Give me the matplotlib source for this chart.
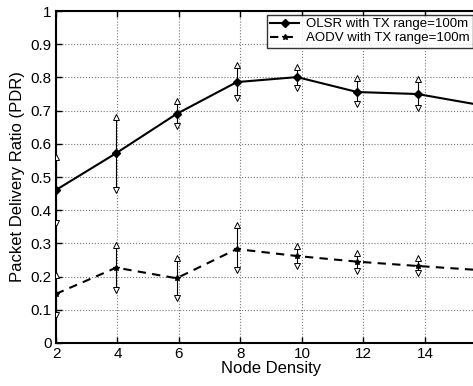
import matplotlib
matplotlib.use('Agg')
import matplotlib.pyplot as plt

plt.rcParams['font.family'] = ['Liberation Sans', 'DejaVu Sans']

# Dados
densidade = [2, 3.96, 5.92, 7.88, 9.84, 11.80, 13.76, 15.72]

olsr = [0.461, 0.572, 0.690, 0.786, 0.801, 0.756, 0.750, 0.718]
olsr_sup = [0.560, 0.680, 0.730, 0.837, 0.830, 0.797, 0.795, 0.760]
olsr_inf = [0.360, 0.460, 0.655, 0.737, 0.767, 0.720, 0.707, 0.680]

aodv = [0.148, 0.227, 0.195, 0.283, 0.262, 0.245, 0.232, 0.220]
aodv_sup = [0.205, 0.295, 0.255, 0.355, 0.292, 0.272, 0.255, 0.245]
aodv_inf = [0.085, 0.160, 0.135, 0.220, 0.232, 0.217, 0.210, 0.195]

fig = plt.figure(figsize=(4.73, 3.86), dpi=100)
ax = fig.add_axes([0.1184, 0.1114, 0.910, 0.860])

# Barras de erro com triângulos abertos nas pontas
for sup, inf in [(olsr_sup, olsr_inf), (aodv_sup, aodv_inf)]:
    ax.vlines(densidade, inf, sup, color='black', linewidth=0.8, zorder=2)
    ax.plot(densidade, sup, linestyle='none', marker='^', markersize=5,
            markerfacecolor='white', markeredgecolor='black', markeredgewidth=0.7, zorder=3)
    ax.plot(densidade, inf, linestyle='none', marker='v', markersize=5,
            markerfacecolor='white', markeredgecolor='black', markeredgewidth=0.7, zorder=3)

ax.plot(densidade, olsr, color='black', linewidth=1.5, marker='D', markersize=4,
        label='OLSR with TX range=100m', zorder=4)
ax.plot(densidade, aodv, color='black', linewidth=1.5, linestyle='--', dashes=(4, 3),
        marker='*', markersize=4, label='AODV with TX range=100m', zorder=4)

ax.set_xlim(2, 16)
ax.set_ylim(0, 1)
ax.set_xticks([2, 4, 6, 8, 10, 12, 14])
ax.set_yticks([0, 0.1, 0.2, 0.3, 0.4, 0.5, 0.6, 0.7, 0.8, 0.9, 1])
ax.set_yticklabels(['0', '0.1', '0.2', '0.3', '0.4', '0.5', '0.6', '0.7', '0.8', '0.9', '1'])
ax.tick_params(direction='in', top=True, right=True, labelsize=11, length=4, width=1, pad=3)
ax.grid(True, linestyle=':', color='#777777', linewidth=0.8)
for s in ax.spines.values():
    s.set_linewidth(1.5)

ax.set_xlabel('Node Density', fontsize=12, labelpad=0)
ax.set_ylabel('Packet Delivery Ratio (PDR)', fontsize=12, labelpad=4)

leg = ax.legend(loc='upper right', bbox_to_anchor=(1.0, 0.962), bbox_transform=fig.transFigure,
                fontsize=9.5, frameon=True, fancybox=False, edgecolor='black',
                borderpad=0.25, labelspacing=0.15, handlelength=2.2, handletextpad=0.5,
                borderaxespad=0)
leg.get_frame().set_linewidth(1.0)

fig.savefig('out.png', dpi=100)
